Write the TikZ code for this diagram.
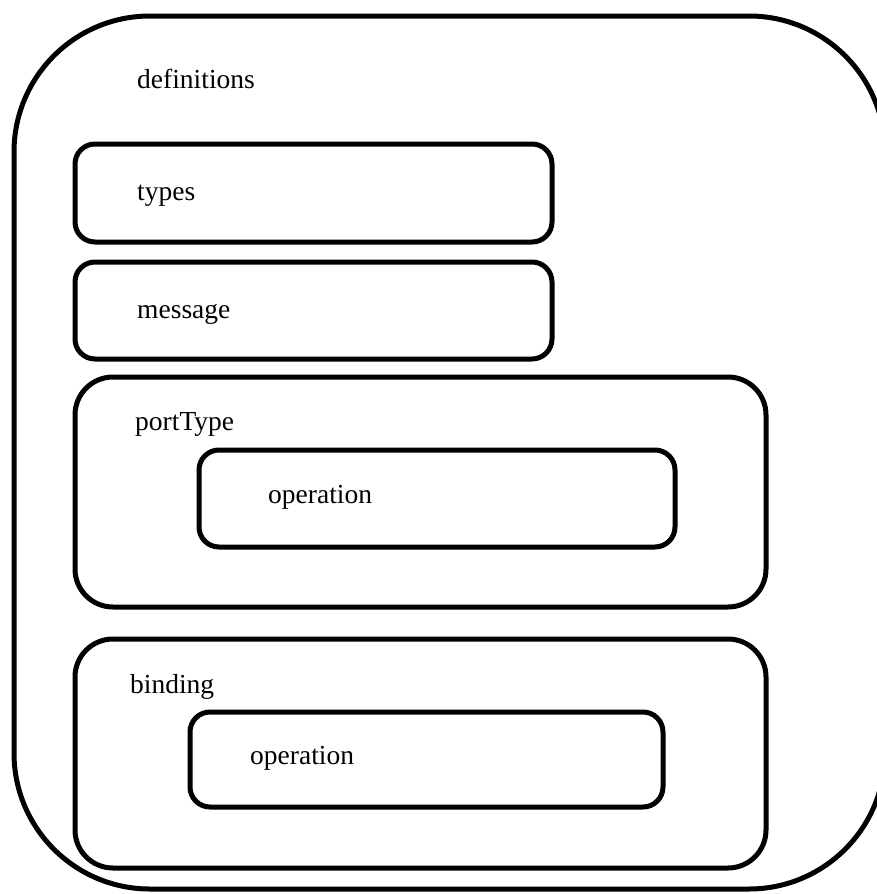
\documentclass[tikz,border=0pt]{standalone}
\usepackage{fontspec}
\setmainfont{Liberation Serif}
\begin{document}
\begin{tikzpicture}[x=1pt,y=-1pt,
  box/.style={draw=black, line width=5pt, rounded corners=#1, inner sep=0pt,
    outer sep=0pt, anchor=north west},
  box/.default=20pt,
  lbl/.style={anchor=base west, inner sep=0pt,
    font=\fontsize{27.5}{33}\selectfont}]
  \useasboundingbox (0,0) rectangle (877,894);
  % outer container, its right side runs past the page edge
  \node[box=136pt, minimum width=871pt, minimum height=873pt] (defs) at (14,16) {};
  \node[lbl] (defslbl) at (137,88) {definitions};
  % types and message
  \node[box, minimum width=477pt, minimum height=98pt] (types) at (75,144) {};
  \node[lbl] (typeslbl) at (137,200) {types};
  \node[box, minimum width=477pt, minimum height=97pt] (msg) at (75,262) {};
  \node[lbl] (msglbl) at (137,318) {message};
  % portType with its operation
  \node[box=38pt, minimum width=691pt, minimum height=230pt] (port) at (75,377) {};
  \node[lbl] (portlbl) at (135,430) {portType};
  \node[box, minimum width=476pt, minimum height=97pt] (op1) at (199,450) {};
  \node[lbl] (op1lbl) at (268,503) {operation};
  % binding with its operation
  \node[box=38pt, minimum width=691pt, minimum height=229pt] (bind) at (75,639) {};
  \node[lbl] (bindlbl) at (130,693) {binding};
  \node[box, minimum width=473pt, minimum height=95pt] (op2) at (190,712) {};
  \node[lbl] (op2lbl) at (250,764) {operation};
\end{tikzpicture}
\end{document}
